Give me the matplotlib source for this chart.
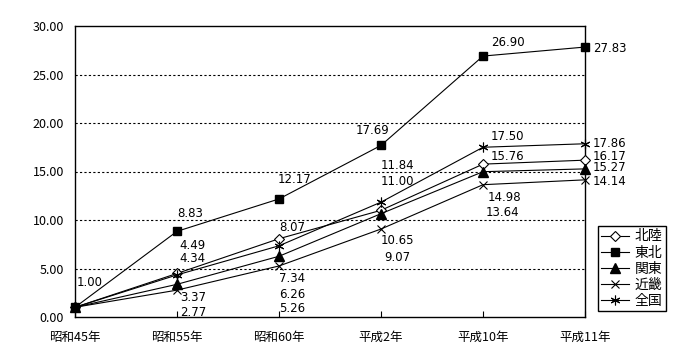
import matplotlib
matplotlib.use("Agg")
import matplotlib.pyplot as plt

plt.rcParams['font.family'] = ['Noto Sans CJK JP', 'DejaVu Sans']

categories = ["昭和45年", "昭和55年", "昭和60年", "平成2年", "平成10年", "平成11年"]
hokuriku = [1.00, 4.49, 8.07, 11.00, 15.76, 16.17]
tohoku = [1.00, 8.83, 12.17, 17.69, 26.90, 27.83]
kanto = [1.00, 3.37, 6.26, 10.65, 14.98, 15.27]
kinki = [1.00, 2.77, 5.26, 9.07, 13.64, 14.14]
zenkoku = [1.00, 4.34, 7.34, 11.84, 17.50, 17.86]

# label offsets in pixels (dx, dy up) per series per point; None = no label
lbl_hokuriku = [None, (15, 28), (13, 11), (16, 29), (24, 8), (8, 4)]
lbl_tohoku = [(15, 25), (13, 18), (16, 19), (-8, 15), (25, 14), (8, -1)]
lbl_kanto = [None, (16, -13), (13, -38), (16, -27), (21, -26), (8, 1)]
lbl_kinki = [None, (16, -22), (13, -43), (16, -28), (19, -28), (8, -2)]
lbl_zenkoku = [None, (15, 16), (13, -33), (16, 37), (24, 11), (8, 0)]

series = [
    ("北陸", hokuriku, lbl_hokuriku, dict(marker="D", mfc="white", mec="black", ms=5, mew=0.8)),
    ("東北", tohoku, lbl_tohoku, dict(marker="s", mfc="black", mec="black", ms=6)),
    ("関東", kanto, lbl_kanto, dict(marker="^", mfc="black", mec="black", ms=7)),
    ("近畿", kinki, lbl_kinki, dict(marker="x", mfc="black", mec="black", ms=6, mew=0.8)),
    ("全国", zenkoku, lbl_zenkoku, dict(marker=(6, 2, 0), mfc="black", mec="black", ms=7, mew=0.8)),
]

fig = plt.figure(figsize=(7, 3.6), dpi=100)
ax = fig.add_axes([75 / 700, 1 - 317 / 360, 510 / 700, 291 / 360])

x = list(range(len(categories)))
for name, vals, lbls, style in series:
    ax.plot(x, vals, color="black", lw=0.8, label=name, clip_on=False, zorder=3, **style)
    for i, (v, off) in enumerate(zip(vals, lbls)):
        if off is None:
            continue
        ha = "left" if i == len(vals) - 1 else "center"
        ax.annotate(f"{v:.2f}", (i, v), xytext=off, textcoords="offset pixels",
                    ha=ha, va="center", fontsize=8.5, family="DejaVu Sans")

ax.set_xlim(0, 5)
ax.set_ylim(0, 30)
ax.set_yticks([0, 5, 10, 15, 20, 25, 30])
ax.set_yticklabels([f"{t:.2f}" for t in [0, 5, 10, 15, 20, 25, 30]], fontsize=9)
ax.set_xticks(x)
ax.set_xticklabels(categories, fontsize=9)
ax.tick_params(axis="x", direction="in", length=4, width=0.8, pad=10)
ax.tick_params(axis="y", length=0, pad=8)
for sp in ax.spines.values():
    sp.set_linewidth(1.0)
for yv in [5, 10, 15, 20, 25]:
    ax.axhline(yv, color="black", lw=0.8, ls=(0, (2, 2)), zorder=1)

leg = ax.legend(loc="upper left", bbox_to_anchor=(598 / 700, 1 - 226 / 360),
                bbox_transform=fig.transFigure, fontsize=10, frameon=True,
                fancybox=False, edgecolor="black", framealpha=1,
                handlelength=2.0, handletextpad=0.4, borderpad=0.25,
                labelspacing=0.15, borderaxespad=0)
leg.get_frame().set_linewidth(1.0)

fig.savefig("out.png", dpi=100)
